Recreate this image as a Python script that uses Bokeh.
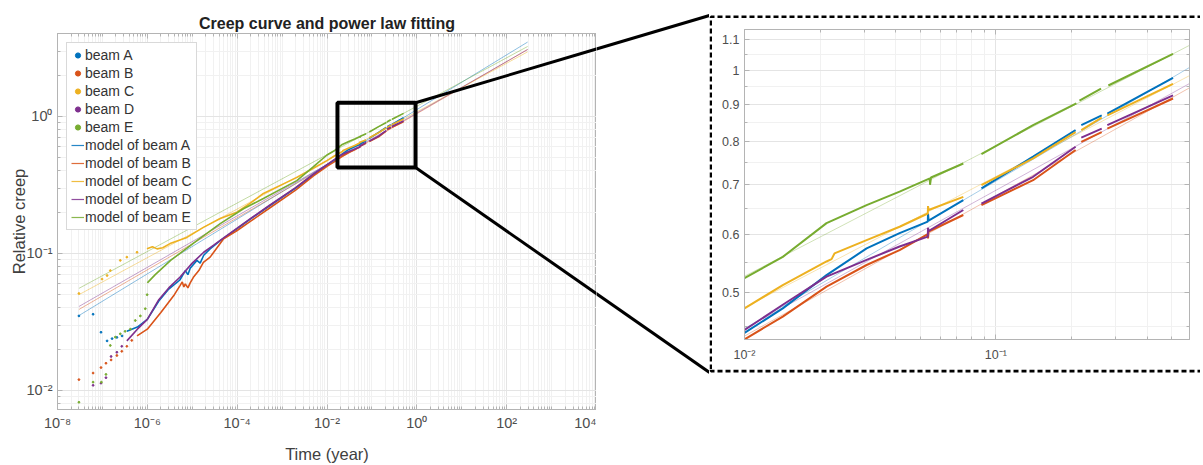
import math
from bokeh.plotting import figure
from bokeh.models import (Range1d, FixedTicker, LogAxis, Legend, LegendItem, BoxAnnotation, Arrow)
from bokeh.layouts import row, column
from bokeh.embed import file_html
from bokeh.resources import INLINE

nan = float("nan")

# ---------------- data ----------------
beam_names = ["A", "B", "C", "D", "E"]
beam_colors = ["#0072BD", "#D95319", "#EDB120", "#7E2F8E", "#77AC30"]

# sparse early readings (dots)
A_dot_t = [3e-8, 6.2e-8, 9.3e-8, 1.27e-7, 1.64e-7, 2.1e-7, 2.74e-7]
A_dot_v = [0.035, 0.036, 0.0266, 0.023, 0.0239, 0.0244, 0.025]
B_dot_t = [3e-8, 6.2e-8, 9.3e-8, 1.2e-7, 1.56e-7, 2.1e-7, 2.7e-7, 3.5e-7, 4.5e-7]
B_dot_v = [0.012, 0.0134, 0.0147, 0.0158, 0.0167, 0.018, 0.0193, 0.021, 0.0232]
C_dot_t = [3e-8, 9.8e-8, 1.27e-7, 1.5e-7, 2.5e-7, 3.5e-7, 5.9e-7]
C_dot_v = [0.051, 0.065, 0.069, 0.075, 0.089, 0.094, 0.102]
D_dot_t = [6.2e-8, 9.3e-8, 1.2e-7, 1.56e-7, 2.1e-7, 2.7e-7]
D_dot_v = [0.0109, 0.0113, 0.0124, 0.0177, 0.019, 0.021]
E_dot_t = [3e-8, 6.2e-8, 9.5e-8, 1.2e-7, 1.5e-7, 1.94e-7, 2.5e-7, 3.2e-7, 4.2e-7, 5.4e-7, 7e-7, 9e-7, 9.9e-7]
E_dot_v = [0.0082, 0.0115, 0.0115, 0.0131, 0.0213, 0.0245, 0.0259, 0.027, 0.028, 0.0324, 0.035, 0.0395, 0.050]

# dense measured creep (nan = gap in record)
A_t = [3.5e-7, 6e-7, 1e-6, 1.8e-6, 3e-6, 5.3e-6, 7e-6, 8e-6, 9e-6, 1.27e-5, 1.5e-5, 1.8e-5, 2.5e-5, 4.2e-5, 1e-4, 2e-4, 5e-4, 2e-3, 5e-3, 0.01, 0.0142, 0.0212, 0.0306, 0.0414, 0.0536, 0.0537, 0.0540, 0.0742, nan, 0.0876, 0.1406, 0.2075, nan, 0.2186, 0.2636, nan, 0.2775, 0.5065]
A_v = [0.027, 0.029, 0.033, 0.045, 0.055, 0.064, 0.075, 0.070, 0.078, 0.089, 0.085, 0.097, 0.108, 0.124, 0.152, 0.179, 0.22, 0.30, 0.375, 0.441, 0.476, 0.528, 0.574, 0.602, 0.624, 0.640, 0.626, 0.667, nan, 0.692, 0.764, 0.830, nan, 0.843, 0.869, nan, 0.874, 0.977]
B_t = [5.9e-7, 1e-6, 2e-6, 4e-6, 5.3e-6, 6e-6, 6.5e-6, 7e-6, 8e-6, 9e-6, 1.06e-5, 1.4e-5, 1.77e-5, 2.5e-5, 5e-5, 1e-4, 2e-4, 5e-4, 2e-3, 5e-3, 0.0102, 0.0142, 0.0212, 0.0306, 0.0414, 0.0536, 0.0537, 0.0540, 0.0742, nan, 0.0876, 0.1406, 0.2075, nan, 0.2186, 0.2636, nan, 0.2775, 0.5065]
B_v = [0.025, 0.028, 0.037, 0.050, 0.058, 0.062, 0.057, 0.060, 0.056, 0.061, 0.067, 0.075, 0.086, 0.094, 0.128, 0.147, 0.172, 0.212, 0.29, 0.368, 0.434, 0.464, 0.5095, 0.545, 0.571, 0.600, 0.592, 0.605, 0.637, nan, 0.657, 0.710, 0.780, nan, 0.800, 0.825, nan, 0.834, 0.916]
C_t = [9.8e-7, 1.3e-6, 1.65e-6, 2.2e-6, 3.2e-6, 7.6e-6, 1.77e-5, 4.2e-5, 9.8e-5, 1.93e-4, 3.84e-4, 2.15e-3, 5e-3, 0.01, 0.0142, 0.0212, 0.0222, 0.0228, 0.0306, 0.0414, 0.0536, 0.0537, 0.0540, 0.0742, nan, 0.0876, 0.1406, 0.2075, nan, 0.2186, 0.2636, nan, 0.2775, 0.5065]
C_v = [0.108, 0.112, 0.108, 0.110, 0.118, 0.131, 0.155, 0.180, 0.200, 0.232, 0.274, 0.359, 0.419, 0.476, 0.512, 0.551, 0.555, 0.565, 0.589, 0.614, 0.640, 0.655, 0.647, 0.674, nan, 0.699, 0.760, 0.825, nan, 0.830, 0.863, nan, 0.869, 0.959]
D_t = [3.5e-7, 6e-7, 1e-6, 1.8e-6, 3e-6, 5.3e-6, 1e-5, 1.8e-5, 3e-5, 5e-5, 1e-4, 2e-4, 5e-4, 2e-3, 5e-3, 0.01, 0.0142, 0.0212, 0.0306, 0.0414, 0.0536, 0.0537, 0.0540, 0.0742, nan, 0.0876, 0.1406, 0.2075, nan, 0.2186, 0.2636, nan, 0.2775, 0.5065]
D_v = [0.023, 0.028, 0.033, 0.046, 0.056, 0.067, 0.085, 0.102, 0.115, 0.130, 0.153, 0.180, 0.222, 0.302, 0.380, 0.445, 0.4815, 0.5256, 0.5537, 0.5773, 0.5955, 0.612, 0.606, 0.647, nan, 0.660, 0.7176, 0.788, nan, 0.811, 0.834, nan, 0.843, 0.925]
E_t = [1e-6, 1.5e-6, 3.3e-6, 1.27e-5, 4.2e-5, 1.38e-4, 3.84e-4, 2.13e-3, 5e-3, 0.01, 0.0142, 0.0212, 0.0306, 0.0414, 0.0546, 0.0547, 0.0552, 0.0742, nan, 0.0876, 0.1406, 0.209, nan, 0.215, 0.262, nan, 0.2801, 0.5065]
E_v = [0.061, 0.070, 0.089, 0.124, 0.165, 0.212, 0.252, 0.340, 0.430, 0.523, 0.559, 0.621, 0.657, 0.685, 0.714, 0.700, 0.716, 0.748, nan, 0.770, 0.843, 0.902, nan, 0.910, 0.945, nan, 0.954, 1.053]

# power-law model lines (straight in log-log), read at both ends
model_t = [3e-8, 293]
model_A = [0.0352, 3.49]
model_B = [0.039, 3.08]
model_C = [0.050, 2.96]
model_D = [0.041, 3.08]
model_E = [0.0556, 3.24]

# axis ticks / labels
x_tick_vals = [1e-8, 1e-6, 1e-4, 1e-2, 1e0, 1e2, 1e4]
x_tick_labels = ["10\u207b\u2078", "10\u207b\u2076", "10\u207b\u2074", "10\u207b\u00b2", "10\u2070", "10\u00b2", "10\u2074"]
y_tick_vals = [1e-2, 1e-1, 1e0]
y_tick_labels = ["10\u207b\u00b2", "10\u207b\u00b9", "10\u2070"]
inset_x_vals = [1e-2, 1e-1]
inset_x_labels = ["10\u207b\u00b2", "10\u207b\u00b9"]
inset_y_vals = [0.5, 0.6, 0.7, 0.8, 0.9, 1.0, 1.1]
inset_y_labels = ["0.5", "0.6", "0.7", "0.8", "0.9", "1", "1.1"]
inset_y_minor = [0.45, 0.55, 0.65, 0.75, 0.85, 0.95, 1.05]

# zoom window drawn on the main plot (t0, t1, v0, v1)
zoom_box = [0.0171, 0.936, 0.424, 1.259]

dots = {"A": (A_dot_t, A_dot_v), "B": (B_dot_t, B_dot_v), "C": (C_dot_t, C_dot_v),
        "D": (D_dot_t, D_dot_v), "E": (E_dot_t, E_dot_v)}
dense = {"A": (A_t, A_v), "B": (B_t, B_v), "C": (C_t, C_v), "D": (D_t, D_v), "E": (E_t, E_v)}
models = {"A": model_A, "B": model_B, "C": model_C, "D": model_D, "E": model_E}

FONT = "Liberation Sans"
AXC = "#b4b4b4"
LBL = "#4d4d4d"
GRID = "#e4e4e4"
MGRID = "#f1f1f1"

# ---------------- geometry (page px) ----------------
PAGE_X0 = 0
M_LEFT, M_FW, M_RIGHT, M_TOP, M_FH, M_BOTTOM = 57, 539, 0, 33, 376, 52
H = M_TOP + M_FH + M_BOTTOM
CONN_W = 113
BOX_W = 491                 # width of the dashed-box column (its right edge falls off the page)
TOP_H = 18                  # strip above the inset holding the top dashed edge
DASH_TOP = 16.5             # centre line of the top dashed edge
MID_H = 351                 # inset figure height
BOT_H = 20
DASH_BOT = TOP_H + MID_H + 1.5
I_LEFT, I_FW, I_TOP, I_FH, I_BOTTOM = 32, 445, 11, 310, 30
I_RIGHT = BOX_W - 3 - I_LEFT - I_FW

XR = (1e-8, 1e4)
YR = (10 ** -2.139, 10 ** 0.6053)
IXR = (0.01, 0.589)
IYR = (0.432, 1.136)

W_MAIN = M_LEFT + M_FW + M_RIGHT
CONN_X0 = PAGE_X0 + W_MAIN          # page x where connector strip starts
INSET_X0 = CONN_X0 + CONN_W         # page x of dashed box left edge


def main_to_page(t, v):
    lx0, lx1 = math.log10(XR[0]), math.log10(XR[1])
    ly0, ly1 = math.log10(YR[0]), math.log10(YR[1])
    px = PAGE_X0 + M_LEFT + (math.log10(t) - lx0) / (lx1 - lx0) * M_FW
    py = M_TOP + (ly1 - math.log10(v)) / (ly1 - ly0) * M_FH
    return px, py


def page_to_main(px, py):
    lx0, lx1 = math.log10(XR[0]), math.log10(XR[1])
    ly0, ly1 = math.log10(YR[0]), math.log10(YR[1])
    t = 10 ** (lx0 + (px - PAGE_X0 - M_LEFT) / M_FW * (lx1 - lx0))
    v = 10 ** (ly1 - (py - M_TOP) / M_FH * (ly1 - ly0))
    return t, v


def no_align(f):
    if hasattr(f, "frame_align"):
        f.frame_align = False
    return f


def style_axis(ax, size, show=True):
    ax.axis_line_color = AXC
    ax.major_tick_line_color = AXC
    ax.minor_tick_line_color = AXC
    ax.major_tick_in = 5
    ax.major_tick_out = 0
    ax.minor_tick_in = 3
    ax.minor_tick_out = 0
    ax.major_label_text_font = FONT
    ax.major_label_text_color = LBL
    if show:
        ax.major_label_text_font_size = size
        ax.major_label_standoff = 5
    else:
        ax.major_label_text_font_size = "1px"
        ax.major_label_text_alpha = 0
        ax.major_label_standoff = 0


def bare_fig(w, h, xr, yr):
    f = figure(width=w, height=h, x_range=xr, y_range=yr, min_border=0, title=None,
               x_axis_location=None, y_axis_location=None, toolbar_location=None,
               output_backend="svg", outline_line_color=None)
    f.grid.visible = False
    f.background_fill_color = "white"
    f.border_fill_color = "white"
    return no_align(f)


# ---------------- main plot ----------------
p = figure(x_axis_type="log", y_axis_type="log",
           x_range=Range1d(*XR), y_range=Range1d(*YR),
           frame_width=M_FW, frame_height=M_FH,
           min_border_left=M_LEFT, min_border_right=M_RIGHT,
           min_border_top=M_TOP, min_border_bottom=M_BOTTOM,
           output_backend="svg", toolbar_location=None,
           title="Creep curve and power law fitting")
p.title.align = "center"
p.title.text_font = FONT
p.title.text_font_size = "16px"
p.title.text_font_style = "bold"
p.title.text_color = "#222222"
p.title.standoff = 4
p.outline_line_color = AXC
p.background_fill_color = "white"
p.border_fill_color = "white"

xt = FixedTicker(ticks=x_tick_vals,
                 minor_ticks=[m * 10.0 ** k for k in range(-8, 4) for m in range(1, 10)])
yt = FixedTicker(ticks=y_tick_vals,
                 minor_ticks=[m * 10.0 ** k for k in range(-3, 1) for m in range(1, 10)])
p.xaxis.ticker = xt
p.yaxis.ticker = yt
p.xgrid.ticker = xt
p.ygrid.ticker = yt
p.xaxis.major_label_overrides = dict(zip(x_tick_vals, x_tick_labels))
p.yaxis.major_label_overrides = dict(zip(y_tick_vals, y_tick_labels))
for ax in p.xaxis + p.yaxis:
    style_axis(ax, "14.5px")
p.yaxis.major_label_standoff = 5
p.xaxis.axis_label = "Time (year)"
p.yaxis.axis_label = "Relative creep"
for ax in p.xaxis + p.yaxis:
    ax.axis_label_text_font = FONT
    ax.axis_label_text_font_size = "16.5px"
    ax.axis_label_text_font_style = "normal"
    ax.axis_label_text_color = "#404040"
p.xaxis.axis_label_standoff = 11
p.yaxis.axis_label_standoff = -4
top_ax = LogAxis(ticker=xt)
style_axis(top_ax, "1px", show=False)
p.add_layout(top_ax, "above")

for g in (p.xgrid, p.ygrid):
    g.grid_line_color = GRID
    g.minor_grid_line_color = MGRID

dot_r = {}
legend_line_r = {}
for name, col in zip(beam_names, beam_colors):
    p.line(model_t, models[name], line_color=col, line_width=1, line_alpha=0.45)
    # legend proxy (nothing drawn in the plot) shown at full strength in the legend
    legend_line_r[name] = p.line([nan, nan], [nan, nan], line_color=col, line_width=1.2,
                                 line_alpha=0.85)
for name, col in zip(beam_names, beam_colors):
    t, v = dense[name]
    p.line(t, v, line_color=col, line_width=1.6)
    dt, dv = dots[name]
    dot_r[name] = p.scatter(dt, dv, marker="circle", size=1.8, fill_color=col, line_color=col)

items = [LegendItem(label="beam " + n, renderers=[dot_r[n]]) for n in beam_names]
items += [LegendItem(label="model of beam " + n, renderers=[legend_line_r[n]]) for n in beam_names]
legend = Legend(items=items, location="top_left", padding=4, spacing=2,
                label_height=16, glyph_height=16, glyph_width=13, label_standoff=1,
                margin=9, border_line_color="#b4b4b4", background_fill_color="white",
                background_fill_alpha=1, label_text_font=FONT, label_text_font_size="14px",
                label_text_color="#333333")
p.add_layout(legend)

# zoom window
p.add_layout(BoxAnnotation(left=zoom_box[0], right=zoom_box[1], bottom=zoom_box[2], top=zoom_box[3],
                           fill_alpha=0, line_color="black", line_alpha=1, line_width=4))

# connector lines: from the zoom window corners to the inset frame corners
corner_top = main_to_page(zoom_box[1], zoom_box[3])
corner_bot = main_to_page(zoom_box[1], zoom_box[2])
end_top = (INSET_X0, DASH_TOP - 1.5)
end_bot = (INSET_X0, DASH_BOT + 1.5)
for yv, e in ((zoom_box[3], end_top), (zoom_box[2], end_bot)):
    te, ve = page_to_main(*e)
    p.add_layout(Arrow(end=None, x_start=zoom_box[1], y_start=yv,
                       x_end=te, y_end=ve, line_color="black", line_width=3))

conn = bare_fig(CONN_W, H, Range1d(0, CONN_W), Range1d(H, 0))
for c, e in ((corner_top, end_top), (corner_bot, end_bot)):
    conn.line([c[0] - CONN_X0, e[0] - CONN_X0], [c[1], e[1]], line_color="black", line_width=3)

# ---------------- inset ----------------
q = figure(x_axis_type="log", y_axis_type="log",
           x_range=Range1d(*IXR), y_range=Range1d(*IYR),
           frame_width=I_FW, frame_height=I_FH,
           min_border_left=I_LEFT, min_border_right=I_RIGHT,
           min_border_top=I_TOP, min_border_bottom=I_BOTTOM,
           output_backend="svg", toolbar_location=None)
no_align(q)
q.outline_line_color = AXC
q.background_fill_color = "white"
q.border_fill_color = "white"
ixt = FixedTicker(ticks=inset_x_vals,
                  minor_ticks=[m * 10.0 ** k for k in range(-2, 0) for m in range(1, 10)])
iyt = FixedTicker(ticks=inset_y_vals, minor_ticks=inset_y_minor)
q.xaxis.ticker = ixt
q.yaxis.ticker = iyt
q.xgrid.ticker = ixt
q.ygrid.ticker = iyt
q.xaxis.major_label_overrides = dict(zip(inset_x_vals, inset_x_labels))
q.yaxis.major_label_overrides = dict(zip(inset_y_vals, inset_y_labels))
for ax in q.xaxis + q.yaxis:
    style_axis(ax, "12.5px")
q.xaxis.major_label_standoff = 8
itop = LogAxis(ticker=ixt)
iright = LogAxis(ticker=iyt)
style_axis(itop, "1px", show=False)
style_axis(iright, "1px", show=False)
q.add_layout(itop, "above")
q.add_layout(iright, "right")
for g in (q.xgrid, q.ygrid):
    g.grid_line_color = GRID
    g.minor_grid_line_color = MGRID

for name, col in zip(beam_names, beam_colors):
    q.line(model_t, models[name], line_color=col, line_width=1, line_alpha=0.35)
for name, col in zip(beam_names, beam_colors):
    t, v = dense[name]
    q.line(t, v, line_color=col, line_width=2)

# dashed frame round the inset (left, top and bottom edges; right edge is off the page)
DASH = dict(line_color="black", line_width=3, line_dash="5 3")
top_fig = bare_fig(BOX_W, TOP_H, Range1d(0, BOX_W), Range1d(TOP_H, 0))
top_fig.line([1.5, 1.5, BOX_W], [TOP_H, DASH_TOP, DASH_TOP], **DASH)
left_strip = bare_fig(3, MID_H, Range1d(0, 1), Range1d(0, 1))
left_strip.line([0.5, 0.5], [0, 1], **DASH)
bot_fig = bare_fig(BOX_W, BOT_H, Range1d(0, BOX_W), Range1d(BOT_H, 0))
bot_fig.line([1.5, 1.5, BOX_W], [0, 1.5, 1.5], **DASH)

right_part = column(top_fig, row(left_strip, q), bot_fig)

layout = row(p, conn, right_part)
open("out.html", "w").write(file_html(layout, INLINE))
